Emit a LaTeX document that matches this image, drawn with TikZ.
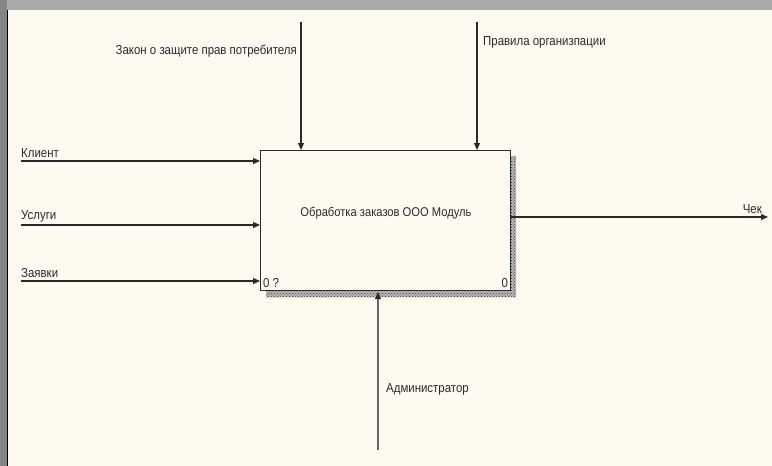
\documentclass[tikz,border=0pt]{standalone}
\usepackage{fontspec}
\setmainfont[FakeStretch=0.88]{Liberation Sans}
\usetikzlibrary{arrows.meta,patterns}
\definecolor{paper}{HTML}{FFFAF0}
\definecolor{frameA}{HTML}{A9A9A9}
\definecolor{frameB}{HTML}{858585}
\definecolor{ink}{HTML}{2A2A2A}
\tikzset{
  arr/.style={draw=ink, line width=1.2pt, -{Triangle[length=7pt,width=6pt,color=ink,fill=ink]}},
  lbl/.style={font=\fontsize{13}{15}\selectfont, text=ink, inner sep=0pt},
  proc/.style={draw=ink, line width=1.1pt, fill=paper, minimum width=250pt, minimum height=140pt, anchor=north west, inner sep=0pt},
}
\begin{document}
\begin{tikzpicture}[x=1pt,y=-1pt]
\useasboundingbox (0,0) rectangle (772,466);
\fill[paper] (0,0) rectangle (772,466);
% frame
\fill[frameA] (0,0) rectangle (772,10);
\fill[frameB] (0,0) rectangle (7,466);
\draw[black, line width=1pt] (7,10) -- (7,466);
% shadow
\fill[gray!55] (266,156) rectangle (516,297);
\fill[pattern=crosshatch dots, pattern color=gray!40!black] (266,156) rectangle (516,297);
% box
\node[proc] (box) at (260,150) {};
\node[lbl, font=\fontsize{12.7}{14}\selectfont] (title) at (386,213) {Обработка заказов ООО Модуль};
\node[lbl, anchor=south west] (n1) at ([shift={(3,-3)}]box.south west) {0 ?};
\node[lbl, anchor=south east] (n2) at ([shift={(-3,-3)}]box.south east) {0};
% inputs
\coordinate (kin) at (21,161);
\coordinate (uin) at (21,225);
\coordinate (zin) at (21,281);
\draw[arr] (kin) -- (kin -| box.west);
\draw[arr] (uin) -- (uin -| box.west);
\draw[arr] (zin) -- (zin -| box.west);
\node[lbl, anchor=south west] (kl) at (21,158) {Клиент};
\node[lbl, anchor=south west] (ul) at (21,222) {Услуги};
\node[lbl, anchor=south west] (zl) at (21,278) {Заявки};
% controls
\coordinate (c1) at (301,22);
\coordinate (c2) at (477,22);
\draw[arr] (c1) -- (c1 |- box.north);
\draw[arr] (c2) -- (c2 |- box.north);
\node[lbl, anchor=east] (c1l) at (297,51) {Закон о защите прав потребителя};
\node[lbl, anchor=west] (c2l) at (483,42) {Правила организпации};
% output
\coordinate (out) at (768,217);
\draw[arr] (out -| box.east) -- (out);
\node[lbl, anchor=south east] (ol) at (762,214) {Чек};
% mechanism
\coordinate (m) at (378,450);
\draw[arr, draw=gray!80!black] (m) -- ([yshift=-1pt]m |- box.south);
\node[lbl, anchor=west] (ml) at (386,389) {Администратор};
\end{tikzpicture}
\end{document}
